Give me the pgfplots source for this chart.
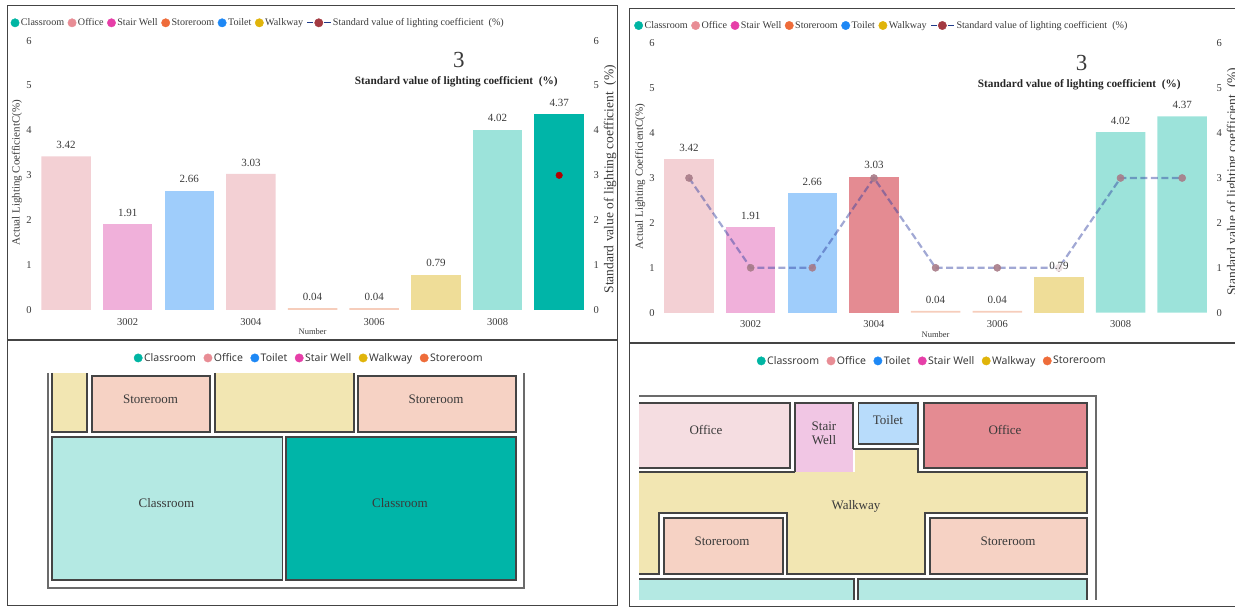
\documentclass[border=0pt]{standalone}
\usepackage{fontspec}
\setmainfont{Liberation Serif}
\newfontfamily\legsans{Noto Sans}
\usepackage{pgfplots}
\pgfplotsset{compat=1.18}
\definecolor{cClass}{HTML}{00B5A3}
\definecolor{cOffice}{HTML}{E88D95}
\definecolor{cStair}{HTML}{E63FA8}
\definecolor{cStore}{HTML}{EE6C3A}
\definecolor{cToilet}{HTML}{1E88F5}
\definecolor{cWalk}{HTML}{E0B40A}
\definecolor{barOfficeL}{HTML}{F3D0D4}
\definecolor{barOfficeD}{HTML}{E48B92}
\definecolor{barStair}{HTML}{F0B0DA}
\definecolor{barToilet}{HTML}{9FCDFB}
\definecolor{barStore}{HTML}{F6CDBB}
\definecolor{barWalk}{HTML}{EFDD98}
\definecolor{barClassL}{HTML}{9CE3DA}
\definecolor{barClassD}{HTML}{00B5A8}
\definecolor{roomWalk}{HTML}{F2E6B2}
\definecolor{roomStore}{HTML}{F6D2C4}
\definecolor{roomClass}{HTML}{B4E9E3}
\definecolor{roomOffice}{HTML}{F5DDE1}
\definecolor{roomStair}{HTML}{F1C6E4}
\definecolor{roomToilet}{HTML}{B8DCFB}
\definecolor{wallc}{HTML}{6B6B6B}
\definecolor{edgec}{HTML}{444444}
\definecolor{txt}{HTML}{3A3A3A}
\definecolor{stdNavy}{HTML}{1F3A8A}
\definecolor{stdMark}{HTML}{A33A42}
\definecolor{stdFade}{HTML}{A87C88}
\definecolor{stdLine}{HTML}{2F3FA0}
\newcommand{\fs}[1]{\fontsize{#1}{#1}\selectfont}
\pgfplotsset{
  dot/.style={legend image code/.code={\fill[#1] (2pt,0pt) circle (4.2pt);}},
  stdline/.style={legend image code/.code={
      \draw[line width=1.3pt,stdNavy] (-3pt,0pt)--(3pt,0pt) (14pt,0pt)--(20.5pt,0pt);
      \fill[stdMark] (8.5pt,0pt) circle (4.2pt);}},
  chart/.style={
    scale only axis, width=554.8pt, height=269.4pt,
    xmin=-0.5, xmax=8.5, ymin=0, ymax=6,
    ytick={0,1,...,6},
    clip=false,
    major tick length=0pt,
    axis line style={draw=none},
    tick label style={font=\fs{10.5},text=txt},
    xticklabel style={yshift=-4.5pt},
    /pgf/number format/assume math mode=true,
  },
  roomlegend/.style={
    legend columns=-1, legend cell align=left,
    legend style={draw=none,fill=none,font=\legsans\fs{10.5},text=txt,
      /tikz/every even column/.style={column sep=6pt},
      nodes={inner xsep=1.5pt,inner ysep=1pt}},
  },
  chartlegend/.style={
    legend columns=-1, legend cell align=left,
    legend style={draw=none,fill=none,font=\fs{10.1},text=txt,
      /tikz/every even column/.style={column sep=2pt},
      nodes={inner xsep=1.5pt,inner ysep=1pt},anchor=west},
  },
  plan/.style={
    scale only axis, hide axis, y dir=reverse,
    ymin=340, ymax=608, height=268pt,
    clip=true,
  },
  bar/.style={ybar, bar width=49.5pt, bar shift=0pt, fill=#1, draw=none, forget plot,
    nodes near coords,
    nodes near coords style={font=\fs{11},text=txt,/pgf/number format/fixed,/pgf/number format/fixed zerofill,/pgf/number format/precision=2,/pgf/number format/assume math mode=true,yshift=4pt}},
  room/.style={fill=#1, draw=edgec, line width=1.1pt, forget plot},
  roomopen/.style={fill=#1, draw=none, forget plot},
  wall/.style={draw=wallc, line width=1.6pt, forget plot, no markers},
  edge/.style={draw=edgec, line width=1.1pt, forget plot, no markers},
}
\begin{document}
\begin{tikzpicture}[x=1pt,y=1pt]
\useasboundingbox (0,0) rectangle (1235,608);

% ---------- floor plan, rooms 3005--3009 ----------
\begin{axis}[plan, at={(0pt,0pt)}, anchor=south west, width=618pt, xmin=0, xmax=618,
  roomlegend, legend style={at={(axis description cs:0.5,0.933)},anchor=center}]
  \addlegendimage{dot=cClass}\addlegendentry{Classroom}
  \addlegendimage{dot=cOffice}\addlegendentry{Office}
  \addlegendimage{dot=cToilet}\addlegendentry{Toilet}
  \addlegendimage{dot=cStair}\addlegendentry{Stair Well}
  \addlegendimage{dot=cWalk}\addlegendentry{Walkway}
  \addlegendimage{dot=cStore}\addlegendentry{Storeroom}
  \addplot[roomopen=roomWalk] coordinates {(52,373)(87,373)(87,432)(52,432)} --cycle;
  \addplot[edge] coordinates {(52,373)(52,432)(87,432)(87,373)};
  \addplot[room=roomStore] coordinates {(92,376)(210,376)(210,432)(92,432)} --cycle;
  \addplot[roomopen=roomWalk] coordinates {(215,373)(354,373)(354,432)(215,432)} --cycle;
  \addplot[edge] coordinates {(215,373)(215,432)(354,432)(354,373)};
  \addplot[room=roomStore] coordinates {(358,376)(516,376)(516,432)(358,432)} --cycle;
  \addplot[room=roomClass] coordinates {(52,437)(282.5,437)(282.5,580)(52,580)} --cycle;
  \addplot[room=barClassD] coordinates {(286,437)(516,437)(516,580)(286,580)} --cycle;
  \addplot[wall] coordinates {(48,373)(48,588)(524,588)(524,373)};
  \node[font=\fs{13},text=txt] at (axis cs:150.5,399) {Storeroom};
  \node[font=\fs{13},text=txt] at (axis cs:436,399) {Storeroom};
  \node[font=\fs{13},text=txt] at (axis cs:166.4,503.5) {Classroom};
  \node[font=\fs{13},text=txt] at (axis cs:400,503.5) {Classroom};
\end{axis}

% ---------- floor plan, rooms 3001--3007 ----------
\begin{axis}[plan, at={(618pt,0pt)}, anchor=south west, width=617pt, xmin=618, xmax=1235,
  roomlegend, legend style={at={(axis description cs:0.509,0.922)},anchor=center}]
  \addlegendimage{dot=cClass}\addlegendentry{Classroom}
  \addlegendimage{dot=cOffice}\addlegendentry{Office}
  \addlegendimage{dot=cToilet}\addlegendentry{Toilet}
  \addlegendimage{dot=cStair}\addlegendentry{Stair Well}
  \addlegendimage{dot=cWalk}\addlegendentry{Walkway}
  \addlegendimage{dot=cStore}\addlegendentry{Storeroom}
  \addplot[roomopen=roomOffice] coordinates {(639,403)(790,403)(790,468)(639,468)} --cycle;
  \addplot[edge] coordinates {(639,403)(790,403)(790,468)(639,468)};
  \addplot[roomopen=roomStair] coordinates {(795,403)(853,403)(853,472)(795,472)} --cycle;
  \addplot[edge] coordinates {(795,472)(795,403)(853,403)(853,449)};
  \addplot[room=roomToilet] coordinates {(858.4,403)(918,403)(918,444)(858.4,444)} --cycle;
  \addplot[room=barOfficeD] coordinates {(924,403)(1087,403)(1087,468)(924,468)} --cycle;
  \addplot[roomopen=roomWalk] coordinates {(639,472)(855,472)(855,449)(918,449)(918,472)(1087,472)(1087,513)(925,513)(925,574)(787,574)(787,513)(659,513)(659,574)(639,574)} --cycle;
  \addplot[edge] coordinates {(639,472)(795,472)};
  \addplot[edge] coordinates {(853,449)(918,449)(918,472)(1087,472)(1087,513)(925,513)(925,574)(787,574)(787,513)(659,513)(659,574)(639,574)};
  \addplot[room=roomStore] coordinates {(664,518)(783,518)(783,574)(664,574)} --cycle;
  \addplot[room=roomStore] coordinates {(930,518)(1087,518)(1087,574)(930,574)} --cycle;
  \addplot[roomopen=roomClass] coordinates {(639,579)(854,579)(854,600)(639,600)} --cycle;
  \addplot[edge] coordinates {(639,579)(854,579)(854,600)};
  \addplot[roomopen=roomClass] coordinates {(858,579)(1087,579)(1087,600)(858,600)} --cycle;
  \addplot[edge] coordinates {(858,600)(858,579)(1087,579)(1087,600)};
  \addplot[wall] coordinates {(639,396)(1096,396)(1096,600)};
  \node[font=\fs{13},text=txt] at (axis cs:706,430) {Office};
  \node[font=\fs{13},text=txt,align=center] at (axis cs:824,433.5) {Stair\\[1pt]Well};
  \node[font=\fs{13},text=txt] at (axis cs:888,420) {Toilet};
  \node[font=\fs{13},text=txt] at (axis cs:1005,430) {Office};
  \node[font=\fs{13},text=txt] at (axis cs:856,506.5) {Walkway};
  \node[font=\fs{13},text=txt] at (axis cs:722,541) {Storeroom};
  \node[font=\fs{13},text=txt] at (axis cs:1008,541) {Storeroom};
\end{axis}

% ---------- panel frames ----------
\draw[edgec,line width=0.9pt] (7,603) rectangle (617.5,3);
\draw[edgec,line width=1.2pt] (7,268) -- (617.5,268);
\draw[edgec,line width=0.9pt] (1240,600) -- (629,600) -- (629,2) -- (1240,2);
\draw[edgec,line width=1.2pt] (629,265) -- (1240,265);

% ---------- bars, rooms 3001--3009, first measurement ----------
\begin{axis}[chart, at={(35.2pt,298pt)}, anchor=south west,
  xtick={1,3,5,7}, xticklabels={3002,3004,3006,3008},
  xlabel={Number}, xlabel style={font=\fs{8.5},text=txt,at={(axis description cs:0.5,-0.082)},anchor=center},
  ylabel={Actual Lighting CoefficientC(\%)},
  ylabel style={font=\fs{11},text=txt,at={(axis description cs:-0.033,0.509)},anchor=center},
  chartlegend, legend style={at={(axis description cs:-0.05,1.066)}}]
  \addlegendimage{dot=cClass}\addlegendentry{Classroom}
  \addlegendimage{dot=cOffice}\addlegendentry{Office}
  \addlegendimage{dot=cStair}\addlegendentry{Stair Well}
  \addlegendimage{dot=cStore}\addlegendentry{Storeroom}
  \addlegendimage{dot=cToilet}\addlegendentry{Toilet}
  \addlegendimage{dot=cWalk}\addlegendentry{Walkway}
  \addlegendimage{stdline}\addlegendentry{Standard value of lighting coefficient\ \ (\%)}
  \addplot[bar=barOfficeL] coordinates {(0,3.42)(3,3.03)};
  \addplot[bar=barStair] coordinates {(1,1.91)};
  \addplot[bar=barToilet] coordinates {(2,2.66)};
  \addplot[bar=barStore] coordinates {(4,0.04)(5,0.04)};
  \addplot[bar=barWalk] coordinates {(6,0.79)};
  \addplot[bar=barClassL] coordinates {(7,4.02)};
  \addplot[bar=barClassD] coordinates {(8,4.37)};
  \node[font=\fs{23},text=txt] at (axis cs:6.373,5.57) {3};
  \node[font=\bfseries\fs{11.3},text=black!85] at (axis cs:6.33,5.08) {Standard value of lighting coefficient\ \ (\%)};
\end{axis}
\begin{axis}[chart, at={(35.2pt,298pt)}, anchor=south west,
  axis x line=none, axis y line*=right,
  ylabel={Standard value of lighting coefficient\ \ (\%)},
  ylabel style={font=\fs{13.5},text=txt,at={(axis description cs:1.036,0.486)},anchor=center}]
  \addplot[only marks, mark=*, mark size=3.3pt, color=red!70!black, forget plot] coordinates {(8,3)};
\end{axis}

% ---------- bars, rooms 3001--3009, second measurement ----------
\begin{axis}[chart, at={(658.2pt,295.3pt)}, anchor=south west,
  xtick={1,3,5,7}, xticklabels={3002,3004,3006,3008},
  xlabel={Number}, xlabel style={font=\fs{8.5},text=txt,at={(axis description cs:0.5,-0.082)},anchor=center},
  ylabel={Actual Lighting CoefficientC(\%)},
  ylabel style={font=\fs{11},text=txt,at={(axis description cs:-0.0325,0.505)},anchor=center},
  chartlegend, legend style={at={(axis description cs:-0.049,1.066)}}]
  \addlegendimage{dot=cClass}\addlegendentry{Classroom}
  \addlegendimage{dot=cOffice}\addlegendentry{Office}
  \addlegendimage{dot=cStair}\addlegendentry{Stair Well}
  \addlegendimage{dot=cStore}\addlegendentry{Storeroom}
  \addlegendimage{dot=cToilet}\addlegendentry{Toilet}
  \addlegendimage{dot=cWalk}\addlegendentry{Walkway}
  \addlegendimage{stdline}\addlegendentry{Standard value of lighting coefficient\ \ (\%)}
  \addplot[bar=barOfficeL] coordinates {(0,3.42)};
  \addplot[bar=barStair] coordinates {(1,1.91)};
  \addplot[bar=barToilet] coordinates {(2,2.66)};
  \addplot[bar=barOfficeD] coordinates {(3,3.03)};
  \addplot[bar=barStore] coordinates {(4,0.04)(5,0.04)};
  \addplot[bar=barWalk,nodes near coords=\empty] coordinates {(6,0.79)};
  \addplot[bar=barClassL] coordinates {(7,4.02)(8,4.37)};
  \node[font=\fs{23},text=txt] at (axis cs:6.37,5.57) {3};
  \node[font=\bfseries\fs{11.3},text=black!85] at (axis cs:6.33,5.08) {Standard value of lighting coefficient\ \ (\%)};
\end{axis}
\begin{axis}[chart, at={(658.2pt,295.3pt)}, anchor=south west,
  axis x line=none, axis y line*=right,
  ylabel={Standard value of lighting coefficient\ \ (\%)},
  ylabel style={font=\fs{13.5},text=txt,at={(axis description cs:1.036,0.486)},anchor=center}]
  \addplot[dash pattern=on 7pt off 3.5pt, line width=2.2pt, color=stdLine, opacity=0.45, no markers, forget plot]
    coordinates {(0,3)(1,1)(2,1)(3,3)(4,1)(5,1)(6,1)(7,3)(8,3)};
  \addplot[only marks, mark=*, mark size=3.6pt, mark options={fill=stdFade,draw=stdFade,opacity=0.9}, forget plot]
    coordinates {(0,3)(1,1)(2,1)(3,3)(4,1)(5,1)(6,1)(7,3)(8,3)};
  \addplot[only marks, mark=none, forget plot, nodes near coords,
    nodes near coords style={font=\fs{11},text=txt,fill=white,fill opacity=0.75,text opacity=1,inner sep=1pt,yshift=6pt,
      /pgf/number format/fixed,/pgf/number format/fixed zerofill,/pgf/number format/precision=2,/pgf/number format/assume math mode=true}]
    coordinates {(6,0.79)};
\end{axis}
\end{tikzpicture}
\end{document}
